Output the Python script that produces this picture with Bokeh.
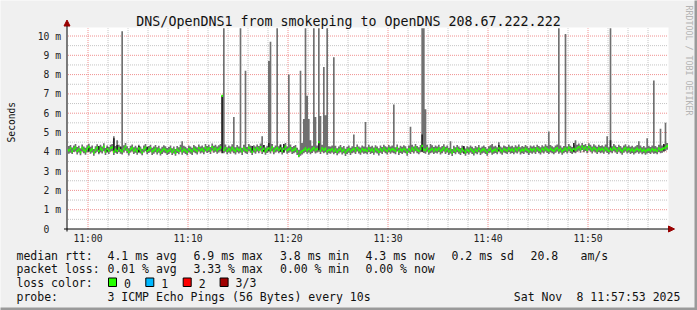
import numpy as np
from bokeh.plotting import figure
from bokeh.models import Label, BoxAnnotation, Arrow, NormalHead
from bokeh.core.properties import value
from bokeh.embed import file_html
from bokeh.resources import INLINE

# ---------------- data ----------------
start_minute = 658.0          # 10:58 as minutes of the day
step_seconds = 10             # one sample every 10 s

median_rtt = [
    4.08, 4.18, 4.02, 4.15, 4.22, 4.05, 4.12, 3.98, 4.20, 4.10, 4.03, 4.16, 4.25, 4.07, 4.13, 3.96, 4.10, 4.21, 4.04, 4.17,
    4.09, 4.26, 4.01, 4.14, 4.06, 4.19, 4.23, 4.00, 4.11, 4.05, 4.18, 4.08, 4.02, 4.15, 4.27, 4.10, 3.99, 4.13, 4.20, 4.06,
    4.12, 4.03, 4.17, 4.09, 3.97, 4.14, 4.22, 4.05, 4.11, 4.19, 4.02, 4.08, 4.16, 4.04, 4.12, 3.98, 4.07, 4.15, 4.10, 4.01,
    4.06, 4.13, 4.00, 4.09, 3.95, 4.11, 4.05, 4.18, 4.03, 4.12, 4.07, 3.99, 4.14, 4.08, 4.02, 4.16, 4.10, 4.04, 4.19, 4.09,
    4.13, 4.05, 4.21, 4.11, 4.17, 4.06, 4.24, 4.12, 4.18, 4.08, 4.15, 4.22, 6.90, 4.10, 4.19, 4.05, 4.13, 4.08, 4.20, 4.11,
    4.04, 4.16, 4.09, 4.14, 4.02, 4.18, 4.10, 4.06, 4.21, 4.13, 4.00, 4.15, 4.08, 4.19, 4.11, 4.24, 4.07, 4.16, 4.03, 4.12,
    4.18, 4.09, 4.22, 4.05, 4.14, 4.20, 4.10, 4.17, 4.04, 4.15, 4.26, 4.08, 4.13, 4.19, 4.06, 4.11, 4.16, 4.02, 3.80, 3.96,
    4.03, 4.10, 4.17, 4.08, 4.15, 4.05, 4.12, 4.20, 4.09, 4.14, 4.50, 4.06, 4.18, 4.11, 4.16, 4.03, 4.10, 4.08, 4.14, 4.05,
    4.12, 4.00, 4.09, 4.16, 4.04, 4.11, 3.97, 4.07, 4.13, 4.02, 4.10, 4.15, 4.06, 4.19, 4.09, 4.03, 4.14, 4.08, 4.11, 4.05,
    4.17, 4.07, 4.12, 4.03, 4.15, 4.09, 4.00, 4.13, 4.06, 4.18, 4.10, 4.04, 4.16, 4.08, 4.14, 4.11, 4.05, 4.19, 4.02, 4.12,
    4.07, 4.15, 4.10, 3.98, 4.13, 4.06, 4.17, 4.09, 4.22, 4.11, 4.05, 4.16, 4.30, 4.12, 4.08, 4.18, 4.03, 4.10, 4.15, 4.06,
    4.13, 4.09, 4.17, 4.04, 4.11, 4.20, 4.07, 4.14, 4.02, 4.09, 3.96, 4.12, 4.05, 4.16, 4.08, 4.01, 4.13, 4.06, 3.98, 4.10,
    4.04, 4.14, 4.07, 3.99, 4.11, 4.05, 4.16, 4.02, 4.09, 4.13, 4.06, 3.97, 4.10, 4.15, 4.03, 4.08, 4.12, 4.05, 4.18, 4.09,
    4.03, 4.14, 4.10, 4.06, 4.17, 4.08, 4.12, 4.05, 4.15, 4.09, 4.19, 4.04, 4.11, 4.07, 4.16, 4.10, 4.02, 4.13, 4.08, 4.14,
    4.06, 4.18, 4.11, 4.04, 4.15, 4.09, 4.20, 4.12, 4.07, 4.16, 4.10, 4.05, 4.13, 4.19, 4.08, 4.14, 4.03, 4.11, 4.17, 4.09,
    4.21, 4.12, 4.06, 4.15, 4.10, 4.18, 4.24, 4.13, 4.27, 4.16, 4.22, 4.11, 4.25, 4.18, 4.09, 4.20, 4.14, 4.07, 4.17, 4.11,
    4.15, 4.08, 4.19, 4.12, 4.05, 4.16, 4.10, 4.21, 4.14, 4.06, 4.18, 4.11, 4.03, 4.13, 4.20, 4.09, 4.15, 4.07, 4.12, 4.04,
    4.10, 4.16, 4.08, 4.14, 4.05, 4.11, 4.03, 4.09, 4.12, 4.06, 4.14, 4.08, 4.11, 4.05, 4.17, 4.10, 4.13, 4.18, 4.22, 4.30,
]

smoke_low = [
    3.90, 3.95, 3.88, 3.99, 4.02, 3.86, 3.97, 3.82, 4.01, 3.93, 3.85, 3.98, 4.05, 3.90, 3.96, 3.80, 3.92, 4.00, 3.87, 3.98,
    3.91, 4.03, 3.84, 3.97, 3.88, 4.00, 4.04, 3.83, 3.95, 3.89, 3.99, 3.90, 3.86, 3.97, 4.06, 3.92, 3.81, 3.96, 4.01, 3.88,
    3.95, 3.85, 3.98, 3.91, 3.82, 3.96, 4.03, 3.87, 3.94, 4.00, 3.84, 3.90, 3.98, 3.86, 3.95, 3.81, 3.89, 3.97, 3.92, 3.84,
    3.88, 3.96, 3.83, 3.91, 3.79, 3.94, 3.87, 4.00, 3.85, 3.95, 3.89, 3.82, 3.97, 3.90, 3.84, 3.98, 3.93, 3.86, 4.01, 3.91,
    3.96, 3.87, 4.02, 3.94, 3.99, 3.88, 4.05, 3.95, 4.00, 3.90, 3.97, 4.03, 4.02, 3.93, 4.00, 3.87, 3.96, 3.90, 4.02, 3.93,
    3.86, 3.98, 3.91, 3.96, 3.84, 4.00, 3.92, 3.88, 4.03, 3.95, 3.83, 3.97, 3.90, 4.01, 3.93, 4.05, 3.89, 3.98, 3.85, 3.94,
    4.00, 3.91, 4.03, 3.87, 3.96, 4.02, 3.92, 3.99, 3.86, 3.97, 4.07, 3.90, 3.95, 4.01, 3.88, 3.93, 3.98, 3.84, 3.72, 3.80,
    3.86, 3.92, 3.99, 3.90, 3.97, 3.87, 3.94, 4.02, 3.91, 3.96, 4.00, 3.88, 4.00, 3.93, 3.98, 3.85, 3.92, 3.90, 3.96, 3.87,
    3.94, 3.82, 3.91, 3.98, 3.86, 3.93, 3.78, 3.89, 3.95, 3.84, 3.92, 3.97, 3.88, 4.01, 3.91, 3.85, 3.96, 3.90, 3.93, 3.87,
    3.99, 3.89, 3.94, 3.85, 3.97, 3.91, 3.81, 3.95, 3.88, 4.00, 3.92, 3.86, 3.98, 3.90, 3.96, 3.93, 3.87, 4.01, 3.84, 3.94,
    3.89, 3.97, 3.92, 3.80, 3.95, 3.88, 3.99, 3.91, 4.03, 3.93, 3.87, 3.98, 4.00, 3.94, 3.90, 4.00, 3.85, 3.92, 3.97, 3.88,
    3.95, 3.91, 3.99, 3.86, 3.93, 4.02, 3.89, 3.96, 3.84, 3.91, 3.78, 3.94, 3.87, 3.98, 3.90, 3.83, 3.95, 3.88, 3.80, 3.92,
    3.86, 3.96, 3.89, 3.81, 3.93, 3.87, 3.98, 3.84, 3.91, 3.95, 3.88, 3.79, 3.92, 3.97, 3.85, 3.90, 3.94, 3.87, 4.00, 3.91,
    3.85, 3.96, 3.92, 3.88, 3.99, 3.90, 3.94, 3.87, 3.97, 3.91, 4.01, 3.86, 3.93, 3.89, 3.98, 3.92, 3.84, 3.95, 3.90, 3.96,
    3.88, 4.00, 3.93, 3.86, 3.97, 3.91, 4.02, 3.94, 3.89, 3.98, 3.92, 3.87, 3.95, 4.01, 3.90, 3.96, 3.85, 3.93, 3.99, 3.91,
    4.03, 3.94, 3.88, 3.97, 3.92, 4.00, 4.06, 3.95, 4.09, 3.98, 4.04, 3.93, 4.07, 4.00, 3.91, 4.02, 3.96, 3.89, 3.99, 3.93,
    3.97, 3.90, 4.01, 3.94, 3.87, 3.98, 3.92, 4.03, 3.96, 3.88, 4.00, 3.93, 3.85, 3.95, 4.02, 3.91, 3.97, 3.89, 3.94, 3.86,
    3.92, 3.98, 3.90, 3.96, 3.87, 3.93, 3.85, 3.91, 3.94, 3.88, 3.96, 3.90, 3.93, 3.87, 3.99, 3.92, 3.95, 4.00, 4.04, 4.10,
]

smoke_high = [
    4.30, 4.35, 4.22, 4.33, 4.40, 4.25, 4.31, 4.18, 4.38, 4.28, 4.21, 4.34, 4.42, 4.26, 4.32, 4.15, 4.29, 4.39, 4.23, 4.36,
    4.27, 4.44, 4.20, 4.33, 4.25, 4.37, 4.41, 4.80, 4.30, 4.60, 4.36, 4.26, 10.25, 4.34, 4.45, 4.29, 4.18, 4.31, 4.38, 4.24,
    4.31, 4.22, 4.36, 4.28, 4.16, 4.33, 4.40, 4.24, 4.30, 4.37, 4.21, 4.27, 4.35, 4.23, 4.31, 4.17, 4.26, 4.34, 4.29, 4.20,
    4.25, 4.32, 4.19, 4.28, 4.14, 4.30, 4.24, 4.37, 4.55, 4.31, 4.26, 4.18, 4.33, 4.27, 4.21, 4.35, 4.29, 4.23, 4.38, 4.28,
    4.32, 4.24, 4.40, 4.30, 4.36, 4.25, 4.43, 4.31, 4.37, 4.27, 4.34, 4.41, 6.90, 10.60, 4.38, 4.24, 4.32, 4.27, 4.39, 5.80,
    4.23, 4.35, 4.28, 10.60, 4.21, 4.37, 8.20, 4.25, 4.40, 4.32, 4.19, 4.34, 4.27, 4.38, 4.30, 4.43, 4.80, 4.35, 4.22, 4.31,
    8.70, 9.70, 4.41, 4.24, 4.33, 10.60, 4.29, 4.36, 4.23, 4.34, 4.45, 4.27, 8.00, 4.38, 4.25, 4.30, 4.35, 4.21, 4.10, 8.20,
    4.45, 5.70, 10.60, 6.90, 5.70, 4.60, 4.31, 10.60, 5.80, 4.33, 10.60, 5.85, 4.37, 8.40, 5.90, 10.60, 4.29, 4.27, 4.33, 8.90,
    4.31, 4.19, 4.28, 4.35, 4.23, 4.30, 4.16, 4.26, 4.32, 4.21, 4.29, 4.90, 4.25, 4.38, 4.28, 4.22, 4.33, 4.27, 5.55, 4.24,
    4.36, 4.26, 4.31, 4.22, 4.34, 4.28, 4.19, 4.32, 4.25, 4.37, 4.29, 4.23, 4.35, 4.27, 4.33, 6.45, 4.24, 4.38, 4.21, 4.31,
    4.26, 4.34, 4.29, 4.17, 4.32, 5.30, 4.36, 4.28, 4.41, 4.30, 4.24, 4.35, 10.60, 10.60, 6.20, 4.37, 4.22, 4.40, 4.34, 4.25,
    4.32, 4.28, 4.36, 4.23, 4.30, 4.39, 4.26, 4.33, 4.21, 4.55, 4.15, 4.31, 4.24, 4.35, 4.27, 4.20, 4.32, 4.25, 4.17, 4.29,
    4.23, 4.33, 4.26, 4.18, 4.30, 4.24, 4.35, 4.21, 4.28, 4.32, 4.25, 4.16, 4.29, 4.34, 4.40, 4.27, 4.31, 4.24, 4.50, 4.28,
    4.22, 4.33, 4.29, 4.25, 4.36, 4.27, 4.31, 4.24, 4.34, 4.28, 4.38, 4.23, 4.30, 4.26, 4.35, 4.29, 4.21, 4.32, 4.27, 4.33,
    4.25, 4.37, 4.30, 4.23, 4.34, 4.28, 4.39, 4.31, 5.05, 4.35, 4.29, 4.24, 4.32, 4.38, 10.60, 4.33, 4.22, 4.30, 10.10, 4.28,
    4.40, 4.31, 4.25, 4.34, 4.60, 4.37, 4.43, 4.32, 4.46, 4.35, 4.41, 4.30, 4.44, 4.37, 4.28, 4.39, 4.33, 4.26, 4.36, 4.30,
    4.34, 4.27, 4.38, 4.80, 4.24, 10.60, 4.29, 4.40, 4.33, 4.25, 4.37, 4.30, 4.22, 4.32, 4.39, 4.28, 4.34, 4.26, 4.31, 4.23,
    4.29, 4.35, 4.55, 4.33, 4.24, 4.30, 4.22, 4.70, 4.31, 4.25, 4.33, 7.70, 4.30, 4.24, 4.36, 5.20, 4.32, 4.37, 5.50, 4.45,
]

dark_index = [12, 18, 23, 27, 29, 31, 42, 47, 92, 110, 117, 120, 127, 129, 150, 212, 237, 258, 303, 325, 357]
dark_low = [4.00, 3.95, 4.02, 4.00, 3.98, 4.05, 3.96, 4.00, 3.93, 3.98, 4.02, 4.05, 4.00, 3.97, 4.08, 4.00, 3.95, 4.05, 4.00, 4.10, 4.05]
dark_high = [4.25, 4.30, 4.22, 4.70, 4.35, 4.28, 4.30, 4.26, 6.90, 4.30, 4.35, 4.45, 4.38, 4.40, 4.55, 4.90, 4.30, 4.35, 4.45, 4.60, 4.40]

x_tick_minutes = [660, 670, 680, 690, 700, 710]
x_tick_labels = ["11:00", "11:10", "11:20", "11:30", "11:40", "11:50"]
x_minor_minutes = [m for m in range(660, 718, 2) if m % 10 != 0]
y_tick_values = [0, 1, 2, 3, 4, 5, 6, 7, 8, 9, 10]
y_tick_labels = ["0\u00a0\u00a0", "1 m", "2 m", "3 m", "4 m", "5 m", "6 m", "7 m", "8 m", "9 m", "10 m"]
y_minor_values = [0.5, 1.5, 2.5, 3.5, 4.5, 5.5, 6.5, 7.5, 8.5, 9.5]

title_text = "DNS/OpenDNS1 from smokeping to OpenDNS 208.67.222.222"
rtt_texts = ["median rtt:", "4.1 ms avg", "6.9 ms max", "3.8 ms min", "4.3 ms now", "0.2 ms sd", "20.8", "am/s"]
loss_texts = ["packet loss:", "0.01 % avg", "3.33 % max", "0.00 % min", "0.00 % now"]
loss_color_names = ["0", "1", "2", "3/3"]
loss_colors = ["#26ff00", "#00b8ff", "#ff0000", "#a00000"]
probe_texts = ["probe:", "3 ICMP Echo Pings (56 Bytes) every 10s", "Sat Nov", "8 11:57:53 2025"]

assert len(median_rtt) == len(smoke_low) == len(smoke_high) == 360

# ---------------- layout: frame = whole canvas ----------------
W, H = 697, 310
X0, X1 = start_minute, start_minute + 60.0
Y0, Y1 = 0.0, 10.4
PX_X0, PX_PER_MIN = 67.5, 10.0      # pixel of 10:58, pixels per minute
PY_Y0, PX_PER_MS = 228.5, 19.3      # pixel of 0 ms, pixels per ms


def fx(px):
    return X0 + (px - PX_X0) / PX_PER_MIN


def fy(py):
    return (PY_Y0 - py) / PX_PER_MS


p = figure(width=W, height=H, output_backend="svg", toolbar_location=None,
           x_range=(fx(0), fx(W)), y_range=(fy(H), fy(0)),
           x_axis_type=None, y_axis_type=None, min_border=0,
           background_fill_color="#f0f0f0", border_fill_color="#f0f0f0",
           outline_line_color=None)
p.xgrid.visible = False
p.ygrid.visible = False

MONO = "DejaVu Sans Mono"

# canvas (white plot area)
p.quad(left=[fx(67)], right=[fx(668)], bottom=[Y0], top=[fy(27)],
       fill_color="#ffffff", line_color=None)

# grid
GRID_MINOR = "#c4c4c4"
GRID_MAJOR = "#f09090"
p.segment(x0=x_minor_minutes, x1=x_minor_minutes, y0=Y0, y1=Y1,
          line_color=GRID_MINOR, line_width=1, line_dash="1 1")
p.segment(x0=X0, x1=X1, y0=y_minor_values, y1=y_minor_values,
          line_color=GRID_MINOR, line_width=1, line_dash="1 1")
p.segment(x0=x_tick_minutes, x1=x_tick_minutes, y0=Y0, y1=Y1,
          line_color=GRID_MAJOR, line_width=1, line_dash="1 1")
p.segment(x0=X0, x1=X1, y0=y_tick_values[1:], y1=y_tick_values[1:],
          line_color=GRID_MAJOR, line_width=1, line_dash="1 1")

n = len(median_rtt)
step = step_seconds / 60.0
edges = [X0 + i * step for i in range(n + 1)]

# smoke (clipped to the top of the plot area)
hi_clip = list(np.minimum(np.array(smoke_high + [smoke_high[-1]]), Y1))
p.varea_step(x=edges, y1=smoke_low + [smoke_low[-1]], y2=hi_clip,
             step_mode="after", fill_color="#707070")
# darker smoke parts
p.vbar(x=[X0 + (i + 0.5) * step for i in dark_index], width=step,
       bottom=dark_low, top=dark_high, fill_color="#262626", line_color=None)
# median (loss 0 colour)
p.segment(x0=edges[:-1], x1=edges[1:], y0=median_rtt, y1=median_rtt,
          line_color=loss_colors[0], line_width=2.4, line_cap="butt")

# axis lines with arrow heads
p.add_layout(Arrow(x_start=fx(66.5), y_start=fy(231), x_end=fx(66.5), y_end=fy(19.5),
                   line_color="#000000", line_width=1,
                   end=NormalHead(size=6, fill_color="#990000", line_color="#990000", line_width=1)))
p.add_layout(Arrow(x_start=fx(63.5), y_start=Y0, x_end=fx(674), y_end=Y0,
                   line_color="#000000", line_width=1,
                   end=NormalHead(size=6, fill_color="#990000", line_color="#990000", line_width=1)))

# tick labels
p.text(x=x_tick_minutes, y=[fy(238)] * len(x_tick_minutes), text=x_tick_labels,
       text_font=value(MONO), text_font_size="9.7px", text_color="#222222",
       text_align="center", text_baseline="middle")
p.text(x=[fx(60.5)] * len(y_tick_values), y=y_tick_values, text=y_tick_labels,
       text_font=value(MONO), text_font_size="9.7px", text_color="#222222",
       text_align="right", text_baseline="middle")


def lab(text, px, py, size="11.5px", align="left", baseline="alphabetic", angle=0.0, color="#111111"):
    p.add_layout(Label(x=fx(px), y=fy(py), text=text, text_font=MONO, text_font_size=size,
                       text_align=align, text_baseline=baseline, angle=angle, text_color=color))


# title, axis label, watermark
lab(title_text, 348, 21, size="13.3px", align="center")
lab("Seconds", 10.5, 121.7, size="9.6px", align="center", baseline="middle", angle=np.pi / 2)
lab("RRDTOOL / TOBI OETIKER", 688.5, 5, size="8.3px", align="left", baseline="middle",
    angle=-np.pi / 2, color="#b4b4b4")

# legend
rtt_x = [16, 107, 193, 279.5, 365, 451, 530, 580]
for t, x in zip(rtt_texts, rtt_x):
    lab(t, x, 255.2)
loss_x = [16, 107, 193, 279.5, 365]
for t, x in zip(loss_texts, loss_x):
    lab(t, x, 268.7)
lab("loss color:", 16, 282.9)
sq_x = [108, 145.3, 182.7, 219.6]
for name, col, x in zip(loss_color_names, loss_colors, sq_x):
    p.add_layout(BoxAnnotation(left=fx(x), right=fx(x + 8), top=fy(277.5), bottom=fy(286),
                               fill_color=col, fill_alpha=1.0, line_color="#000000",
                               line_alpha=1.0, line_width=1))
    lab(name, x + 15.5, 282.9)
probe_x = [16, 107, 513.3, 576]
for t, x in zip(probe_texts, probe_x):
    lab(t, x, 296.7)

# 3D-ish border shading (right / bottom)
p.add_layout(BoxAnnotation(left=fx(694), right=fx(700), top=fy(-5), bottom=fy(315),
                           fill_color="#9a9a9a", fill_alpha=1.0, line_color=None))
p.add_layout(BoxAnnotation(left=fx(-5), right=fx(700), top=fy(307), bottom=fy(315),
                           fill_color="#9a9a9a", fill_alpha=1.0, line_color=None))

open("out.html", "w").write(file_html(p, INLINE))
